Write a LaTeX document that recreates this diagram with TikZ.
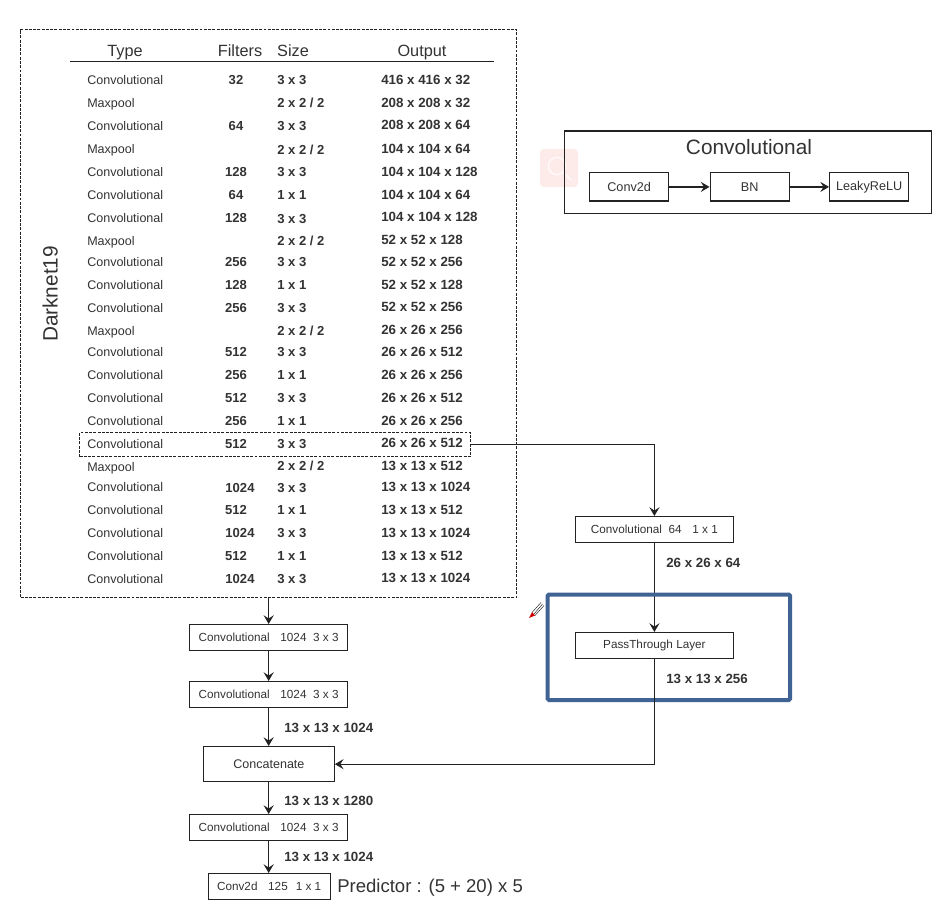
\documentclass[tikz,border=0pt]{standalone}
\usepackage{fontspec}
\setmainfont{Liberation Sans}
\usetikzlibrary{arrows.meta,calc}
\definecolor{ink}{HTML}{222222}
\definecolor{txt}{HTML}{333333}
\definecolor{hl}{HTML}{3F6392}
\definecolor{pinkbg}{HTML}{FDEBEA}
\tikzset{
  x=0.75pt,y=-0.75pt,
  every node/.style={text=txt},
  cell/.style={inner sep=0pt,anchor=mid west,yshift=-0.7pt,font=\fontsize{9.4}{11}\selectfont},
  bcell/.style={inner sep=0pt,anchor=mid west,yshift=-0.7pt,font=\fontsize{9.8}{11}\selectfont\bfseries},
  ocell/.style={inner sep=0pt,anchor=mid west,yshift=-0.7pt,font=\fontsize{10}{11}\selectfont\bfseries},
  fcell/.style={inner sep=0pt,anchor=mid,yshift=-0.7pt,font=\fontsize{9.8}{11}\selectfont\bfseries},
  head/.style={inner sep=0pt,anchor=mid,yshift=-1.9pt,font=\fontsize{12.2}{14}\selectfont},
  bigtext/.style={inner sep=0pt,font=\fontsize{15.6}{18}\selectfont},
  lbl/.style={inner sep=0pt,anchor=mid west,yshift=-1.2pt,font=\fontsize{10}{12}\selectfont\bfseries},
  blockbox/.style={draw=ink,line width=1pt,inner sep=0pt,anchor=north west,font=\fontsize{8.8}{10}\selectfont},
  legendbox/.style={blockbox,font=\fontsize{9.5}{11}\selectfont},
  flow/.style={draw=ink,line width=1pt,-{Stealth[length=6.5pt,width=7.5pt,inset=2.4pt]}},
  dashbox/.style={draw=ink,line width=0.85pt,dash pattern=on 2.2pt off 1pt,inner sep=0pt,anchor=north west},
}
\newcommand{\boxat}[6]{\node[blockbox,minimum width=#4*0.75pt,minimum height=#5*0.75pt] (#1) at (#2,#3) {#6};}
\newcommand{\legat}[5]{\node[legendbox,minimum width=#4*0.75pt,minimum height=28.5*0.75pt] (#1) at (#2,#3) {#5};}
\begin{document}
\begin{tikzpicture}
\useasboundingbox[fill=white] (0,0) rectangle (942,905);

% faint overlay icon
\fill[pinkbg,rounded corners=3pt] (540,149) rectangle (578,187);
\draw[white,line width=1pt,opacity=.8] (557,166) circle[radius=6.5pt];
\draw[white,line width=1pt,opacity=.8] (565,174) -- (571,180);

% Outer dashed block
\node[dashbox,minimum width=496*0.75pt,minimum height=568*0.75pt] (dark) at (20,29) {};
\node[bigtext,rotate=90,anchor=mid] (darklabel) at (54,294) {Darknet19};

% Header
\node[head] (hType) at (125,50) {Type};
\node[head] (hFilters) at (240,50) {Filters};
\node[head] (hSize) at (293,50) {Size};
\node[head] (hOutput) at (422,50) {Output};
\coordinate (ruleL) at (70,61.5);
\coordinate (ruleR) at (494,61.5);
\draw[ink,line width=1pt] (ruleL) -- (ruleR);

% Type column
\foreach \n/\t/\y in {1/Convolutional/80,2/Maxpool/103,3/Convolutional/126,4/Maxpool/149,5/Convolutional/172,6/Convolutional/195,7/Convolutional/218,8/Maxpool/241,9/Convolutional/262,10/Convolutional/285,11/Convolutional/308,12/Maxpool/331,13/Convolutional/352,14/Convolutional/375,15/Convolutional/398,16/Convolutional/421,17/Convolutional/444,18/Maxpool/467,19/Convolutional/487,20/Convolutional/510,21/Convolutional/533,22/Convolutional/556,23/Convolutional/579}
  {\node[cell] (t\n) at (87,\y) {\t};}

% Filters column
\foreach \n/\f/\x/\y in {1/32/236/80,3/64/236/126,5/128/236/172,6/64/236/195,7/128/236/218,9/256/236/262,10/128/236/285,11/256/236/308,13/512/236/352,14/256/236/375,15/512/236/398,16/256/236/421,17/512/236/444,19/1024/240/488,20/512/236/510,21/1024/240/533,22/512/236/556,23/1024/240/579}
  {\node[fcell] (f\n) at (\x,\y) {\f};}

% Size column
\foreach \n/\s/\y in {1/3 x 3/80,3/3 x 3/126,5/3 x 3/172,6/1 x 1/195,7/3 x 3/219,9/3 x 3/262,10/1 x 1/285,11/3 x 3/308,13/3 x 3/352,14/1 x 1/375,15/3 x 3/398,16/1 x 1/421,17/3 x 3/444,19/3 x 3/488,20/1 x 1/510,21/3 x 3/533,22/1 x 1/556,23/3 x 3/579}
  {\node[bcell] (s\n) at (277,\y) {\s};}
\foreach \n/\y in {2/103,4/150,8/241,12/331,18/466}
  {\node[bcell] (s\n) at (277,\y) {2 x 2 {/} 2};}

% Output column
\foreach \n/\o/\y in {1/416 x 416 x 32/80,2/208 x 208 x 32/103,3/208 x 208 x 64/125,4/104 x 104 x 64/149,5/104 x 104 x 128/172,6/104 x 104 x 64/195,7/104 x 104 x 128/217,8/52 x 52 x 128/240,9/52 x 52 x 256/262,10/52 x 52 x 128/285,11/52 x 52 x 256/307,12/26 x 26 x 256/330,13/26 x 26 x 512/352,14/26 x 26 x 256/375,15/26 x 26 x 512/398,16/26 x 26 x 256/421,17/26 x 26 x 512/443,18/13 x 13 x 512/466,19/13 x 13 x 1024/487,20/13 x 13 x 512/510,21/13 x 13 x 1024/533,22/13 x 13 x 512/556,23/13 x 13 x 1024/578}
  {\node[ocell] (o\n) at (381,\y) {\o};}

% Highlighted row
\node[dashbox,minimum width=391*0.75pt,minimum height=24*0.75pt] (rowhl) at (79,432) {};

% Convolutional legend
\node[draw=ink,line width=1pt,inner sep=0pt,anchor=north west,minimum width=366.5*0.75pt,minimum height=82.5*0.75pt] (legend) at (564,130.5) {};
\node[bigtext,anchor=mid] (legendtitle) at (749,151) {Convolutional};
\legat{lconv}{589}{172}{79}{Conv2d}
\legat{lbn}{709.5}{172}{79}{BN}
\legat{lrelu}{829}{172}{79}{LeakyReLU}
\draw[flow] (lconv) -- (lbn);
\draw[flow] (lbn) -- (lrelu);

% Branch
\boxat{c64}{574.5}{516}{158.5}{26}{Convolutional\hspace{5pt}64\hspace{8pt}1 x 1}
\boxat{pass}{574.5}{632}{158.5}{26}{PassThrough Layer}
\draw[flow] (rowhl.east) -| (c64.north);
\draw[flow] (c64.south) -- (pass.north);
\node[lbl] (l26) at (666,562) {26 x 26 x 64};
\node[lbl] (l13a) at (666,678) {13 x 13 x 256};
\draw[hl,line width=3pt,rounded corners=1pt] (547.5,594.5) rectangle (790,700);

% Main stem
\boxat{m1}{189}{624}{158}{26}{Convolutional\hspace{8pt}1024\hspace{5pt}3 x 3}
\boxat{m2}{189}{681}{158}{26}{Convolutional\hspace{8pt}1024\hspace{5pt}3 x 3}
\node[blockbox,font=\fontsize{9.4}{11}\selectfont,minimum width=130.5*0.75pt,minimum height=35*0.75pt] (cat) at (203,746) {Concatenate};
\boxat{m3}{189}{814}{158}{26}{Convolutional\hspace{8pt}1024\hspace{5pt}3 x 3}
\boxat{pred}{207.5}{873}{122}{26}{Conv2d\hspace{8pt}125\hspace{6pt}1 x 1}

\draw[flow] (dark.south -| m1.north) -- (m1.north);
\draw[flow] (m1.south) -- (m2.north);
\draw[flow] (m2.south) -- (cat.north -| m2.south);
\draw[flow] (cat.south -| m3.north) -- (m3.north);
\draw[flow] (m3.south) -- (pred.north -| m3.south);
\draw[flow] (pass.south) |- (cat.east);

\node[lbl] (l1) at (284,727) {13 x 13 x 1024};
\node[lbl] (l2) at (284,800) {13 x 13 x 1280};
\node[lbl] (l3) at (284,856) {13 x 13 x 1024};
\node[inner sep=0pt,anchor=mid west,font=\fontsize{13.9}{16}\selectfont] (predlabel) at (337,889) {Predictor : (5 + 20) x 5};

% Pencil cursor
\fill[white] (532,612.5) -- (541,602.5) -- (544,605.5) -- (535,615.5) -- cycle;
\draw[ink,line width=0.35pt] (532,612.5) -- (541,602.5) (535,615.5) -- (544,605.5) (534,614) -- (542.5,604);
\fill[red!80!black] (529,618) -- (532,612) -- (535,615.5) -- cycle;
\end{tikzpicture}
\end{document}
